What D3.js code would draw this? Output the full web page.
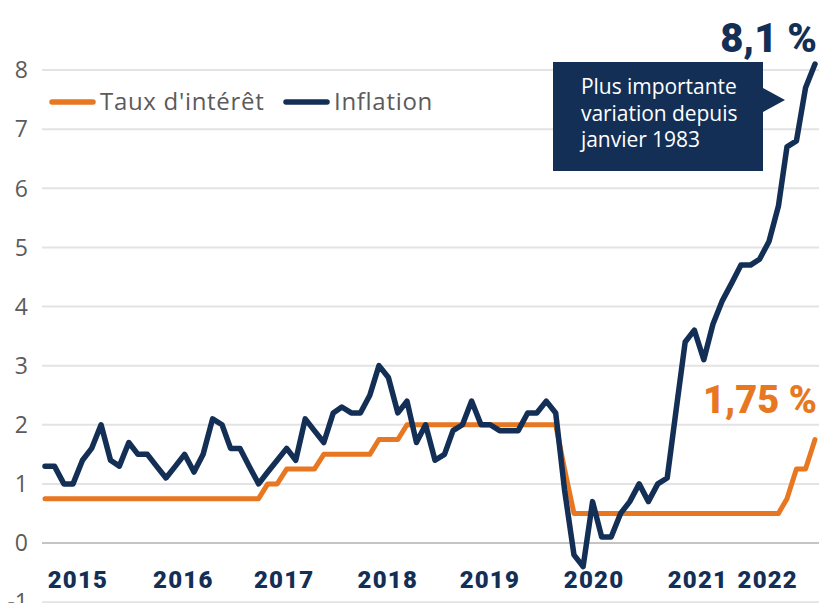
<!DOCTYPE html>
<html lang="fr">
<meta charset="utf-8">
<head>
    <script src="https://d3js.org/d3.v7.min.js"></script>
    <style>
        body { margin: 0; background: #fff; }
        svg { display: block; }
    </style>
</head>
<body>
<script>
// monthly data, July 2015 -> June 2022
const firstMonth = new Date(2015, 6, 1);
const lastMonth = new Date(2022, 5, 1);

// Inflation (CPI, y/y %)
const inflation = [
    1.3, 1.3, 1.0, 1.0, 1.4, 1.6,
    2.0, 1.4, 1.3, 1.7, 1.5, 1.5, 1.3, 1.1, 1.3, 1.5, 1.2, 1.5,
    2.1, 2.0, 1.6, 1.6, 1.3, 1.0, 1.2, 1.4, 1.6, 1.4, 2.1, 1.9,
    1.7, 2.2, 2.3, 2.2, 2.2, 2.5, 3.0, 2.8, 2.2, 2.4, 1.7, 2.0,
    1.4, 1.5, 1.9, 2.0, 2.4, 2.0, 2.0, 1.9, 1.9, 1.9, 2.2, 2.2,
    2.4, 2.2, 0.9, -0.2, -0.4, 0.7, 0.1, 0.1, 0.5, 0.7, 1.0, 0.7,
    1.0, 1.1, 2.2, 3.4, 3.6, 3.1, 3.7, 4.1, 4.4, 4.7, 4.7, 4.8,
    5.1, 5.7, 6.7, 6.8, 7.7, 8.1
];

// Taux d'intérêt (%)
const rate = [
    0.75, 0.75, 0.75, 0.75, 0.75, 0.75,
    0.75, 0.75, 0.75, 0.75, 0.75, 0.75, 0.75, 0.75, 0.75, 0.75, 0.75, 0.75,
    0.75, 0.75, 0.75, 0.75, 0.75, 0.75, 1.0, 1.0, 1.25, 1.25, 1.25, 1.25,
    1.5, 1.5, 1.5, 1.5, 1.5, 1.5, 1.75, 1.75, 1.75, 2.0, 2.0, 2.0,
    2.0, 2.0, 2.0, 2.0, 2.0, 2.0, 2.0, 2.0, 2.0, 2.0, 2.0, 2.0,
    2.0, 2.0, 1.25, 0.5, 0.5, 0.5, 0.5, 0.5, 0.5, 0.5, 0.5, 0.5,
    0.5, 0.5, 0.5, 0.5, 0.5, 0.5, 0.5, 0.5, 0.5, 0.5, 0.5, 0.5,
    0.5, 0.5, 0.75, 1.25, 1.25, 1.75
];

const yTicks = [-1, 0, 1, 2, 3, 4, 5, 6, 7, 8];
const yearLabels = ["2015", "2016", "2017", "2018", "2019", "2020", "2021", "2022"];
const yearLabelDates = ["2015-10-17", "2016-09-27", "2017-08-24", "2018-07-30",
                        "2019-06-30", "2020-06-06", "2021-05-13", "2021-12-28"];
const legendNames = ["Taux d'intérêt", "Inflation"];
const calloutLines = ["Plus importante", "variation depuis", "janvier 1983"];
const lastInflationLabel = "8,1 %";
const lastRateLabel = "1,75 %";

const navy = "#132f56";
const orange = "#e87722";
const width = 819, height = 603;

const months = d3.timeMonth.range(firstMonth, d3.timeMonth.offset(lastMonth, 1));

const x = d3.scaleTime()
    .domain([firstMonth, lastMonth])
    .range([45, 815]);

const y = d3.scaleLinear()
    .domain([0, 8])
    .range([543, 70]);

const svg = d3.select("body").append("svg")
    .attr("width", width)
    .attr("height", height);

// grid lines
svg.append("g")
    .selectAll("line")
    .data(yTicks)
    .join("line")
    .attr("x1", 42)
    .attr("x2", width)
    .attr("y1", d => y(d))
    .attr("y2", d => y(d))
    .attr("stroke", d => d === 0 ? "#c4c4c4" : "#e3e3e3")
    .attr("stroke-width", 2);

// Y axis labels
svg.append("g")
    .selectAll("text")
    .data(yTicks)
    .join("text")
    .attr("x", 28)
    .attr("y", d => y(d))
    .attr("dy", "0.36em")
    .attr("text-anchor", "end")
    .attr("font-family", "'Open Sans', sans-serif")
    .attr("font-size", 23)
    .attr("fill", "#5b5b5b")
    .text(d => d);

// X labels
const parse = d3.timeParse("%Y-%m-%d");
svg.append("g")
    .selectAll("text")
    .data(yearLabels)
    .join("text")
    .attr("x", (d, i) => x(parse(yearLabelDates[i])))
    .attr("y", 588)
    .attr("text-anchor", "middle")
    .attr("font-family", "Roboto, sans-serif")
    .attr("font-weight", 900)
    .attr("font-size", 24)
    .attr("letter-spacing", 1.2)
    .attr("fill", navy)
    .text(d => d);

// lines
const line = d3.line()
    .x((d, i) => x(months[i]))
    .y(d => y(d));

svg.append("path")
    .datum(rate)
    .attr("fill", "none")
    .attr("stroke", orange)
    .attr("stroke-width", 5)
    .attr("stroke-linejoin", "round")
    .attr("stroke-linecap", "round")
    .attr("d", line);

svg.append("path")
    .datum(inflation)
    .attr("fill", "none")
    .attr("stroke", navy)
    .attr("stroke-width", 5.5)
    .attr("stroke-linejoin", "round")
    .attr("stroke-linecap", "round")
    .attr("d", line);

// legend
const legend = svg.append("g");
const legendX = [50, 284];
legendNames.forEach(function(name, i) {
    const g = legend.append("g").attr("transform", "translate(" + legendX[i] + ",102)");
    g.append("line")
        .attr("x1", 2).attr("x2", 43)
        .attr("stroke", i === 0 ? orange : navy)
        .attr("stroke-width", 5.5)
        .attr("stroke-linecap", "round");
    g.append("text")
        .attr("x", 50)
        .attr("y", 0)
        .attr("dy", "0.34em")
        .attr("font-family", "'Open Sans', sans-serif")
        .attr("font-size", 24)
        .attr("letter-spacing", 0.7)
        .attr("fill", "#5b5b5b")
        .text(name);
});

// callout
const callout = svg.append("g");
callout.append("path")
    .attr("d", "M553,62 H763 V88 L785,100 L763,112 V171 H553 Z")
    .attr("fill", navy);
callout.selectAll("text")
    .data(calloutLines)
    .join("text")
    .attr("x", 581)
    .attr("y", (d, i) => 94 + i * 26.7)
    .attr("font-family", "'Open Sans', sans-serif")
    .attr("font-size", 21)
    .attr("letter-spacing", -0.05)
    .attr("fill", "#fff")
    .text(d => d);

// end labels
svg.append("text")
    .attr("x", 817)
    .attr("y", 52)
    .attr("text-anchor", "end")
    .attr("font-family", "Roboto, sans-serif")
    .attr("font-weight", 900)
    .attr("font-size", 40)
    .attr("fill", navy)
    .text(lastInflationLabel);

svg.append("text")
    .attr("x", 817)
    .attr("y", 413)
    .attr("text-anchor", "end")
    .attr("font-family", "Roboto, sans-serif")
    .attr("font-weight", 900)
    .attr("font-size", 38)
    .attr("fill", orange)
    .text(lastRateLabel);
</script>
</body>
</html>
